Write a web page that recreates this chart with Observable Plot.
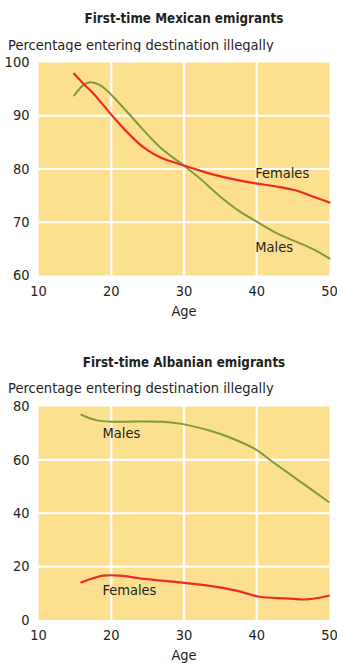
<!DOCTYPE html>
<html>
<head>
<meta charset="utf-8">
<script src="https://cdn.jsdelivr.net/npm/d3@7"></script>
<script src="https://cdn.jsdelivr.net/npm/@observablehq/plot@0.6"></script>
<style>
  html, body { margin: 0; padding: 0; background: #fff; }
  body { width: 337px; height: 666px; position: relative; overflow: hidden;
         font-family: "DejaVu Sans Condensed", "Liberation Sans", sans-serif; color: #231f20; }
  .title { position: absolute; left: 0; width: 368px; text-align: center; font-weight: bold; font-size: 13.3px; line-height: 16px; }
  .sub { position: absolute; left: 8px; font-size: 14.6px; line-height: 16px; white-space: nowrap; }
  .chart { position: absolute; left: 0; }
</style>
</head>
<body>
<div class="title" id="t1" style="top:11px">First-time Mexican emigrants</div>
<div class="sub" id="s1" style="top:37px">Percentage entering destination illegally</div>
<div class="chart" id="c1" style="top:52px"></div>
<div class="title" id="t2" style="top:355px">First-time Albanian emigrants</div>
<div class="sub" id="s2" style="top:380px">Percentage entering destination illegally</div>
<div class="chart" id="c2" style="top:396px"></div>
<script>
// ---- Data ----
const xTicks = [10, 20, 30, 40, 50];

const mexFemaleAges   = [14.9, 16.4, 17.6, 19.9, 22.2, 24.4, 26.7, 29.9, 32.2, 34.2, 36.4, 39.8, 42.3, 45.3, 47.8, 50];
const mexFemaleValues = [97.9, 95.7, 94.1, 90.4, 86.9, 84.1, 82.2, 80.7, 79.7, 78.9, 78.2, 77.3, 76.8, 76.0, 74.8, 73.7];
const mexMaleAges     = [14.9, 16.2, 17.1, 18.5, 19.9, 22.2, 24.5, 26.7, 29.9, 32.2, 35.0, 37.7, 40.0, 42.8, 45.5, 47.8, 50];
const mexMaleValues   = [93.8, 95.8, 96.3, 95.7, 94.1, 90.7, 87.2, 84.1, 80.7, 78.2, 74.8, 72.0, 70.1, 67.9, 66.3, 64.9, 63.2];
const mexYTicks = [60, 70, 80, 90, 100];

const albMaleAges     = [15.9, 17.9, 20.2, 23.5, 27.1, 29.9, 33.6, 36.3, 39.8, 42.3, 45.5, 49.9];
const albMaleValues   = [76.9, 74.9, 74.3, 74.4, 74.3, 73.4, 70.9, 68.4, 64.0, 59.0, 52.8, 44.2];
const albFemaleAges   = [15.9, 18.9, 21.2, 24.8, 29.4, 33.6, 37.2, 40.4, 44.1, 46.9, 49.9];
const albFemaleValues = [14.1, 16.6, 16.6, 15.3, 14.1, 12.8, 11.0, 8.7, 8.1, 7.7, 9.1];
const albYTicks = [0, 20, 40, 60, 80];

const mexLabels = [{age: 39.8, value: 79.2, text: "Females"}, {age: 39.8, value: 65.2, text: "Males"}];
const albLabels = [{age: 18.8, value: 69.8, text: "Males"}, {age: 18.8, value: 11.1, text: "Females"}];

const BG = "#fde08f", RED = "#ee2a24", GREEN = "#7d9b3d", INK = "#231f20";
const FONT = '"DejaVu Sans Condensed", "Liberation Sans", sans-serif';

const zip = (xs, ys) => xs.map((x, i) => ({age: x, value: ys[i]}));

function chart({yDomain, yTicks, females, males, labels, height, marginBottom}) {
  const inner = yTicks.slice(1, -1);
  const inX = xTicks.slice(1, -1);
  return Plot.plot({
    width: 337, height,
    marginLeft: 38, marginRight: 8, marginTop: 10, marginBottom,
    style: {fontFamily: FONT, fontSize: "14.5px", color: INK, background: "white", overflow: "visible"},
    x: {domain: [10, 50], ticks: xTicks, tickSize: 0, tickPadding: 10, label: null},
    y: {domain: yDomain, ticks: yTicks, tickSize: 0, tickPadding: 9, label: null},
    marks: [
      Plot.frame({fill: BG, stroke: null}),
      Plot.ruleX(inX, {stroke: "white", strokeWidth: 2.2}),
      Plot.ruleY(inner, {stroke: "white", strokeWidth: 2.2}),
      Plot.line(males, {x: "age", y: "value", stroke: GREEN, strokeWidth: 2, curve: "catmull-rom"}),
      Plot.line(females, {x: "age", y: "value", stroke: RED, strokeWidth: 2.2, curve: "catmull-rom"}),
      Plot.text(labels, {x: "age", y: "value", text: "text", textAnchor: "start", fill: INK, fontSize: 14.5}),
      Plot.text(["Age"], {frameAnchor: "bottom", dy: 40, fill: INK, fontSize: 14.5})
    ]
  });
}

document.getElementById("c1").appendChild(chart({
  yDomain: [60, 100], yTicks: mexYTicks,
  females: zip(mexFemaleAges, mexFemaleValues), males: zip(mexMaleAges, mexMaleValues),
  labels: mexLabels, height: 278, marginBottom: 55
}));
document.getElementById("c2").appendChild(chart({
  yDomain: [0, 80], yTicks: albYTicks,
  females: zip(albFemaleAges, albFemaleValues), males: zip(albMaleAges, albMaleValues),
  labels: albLabels, height: 271, marginBottom: 47.5
}));
</script>
</body>
</html>
